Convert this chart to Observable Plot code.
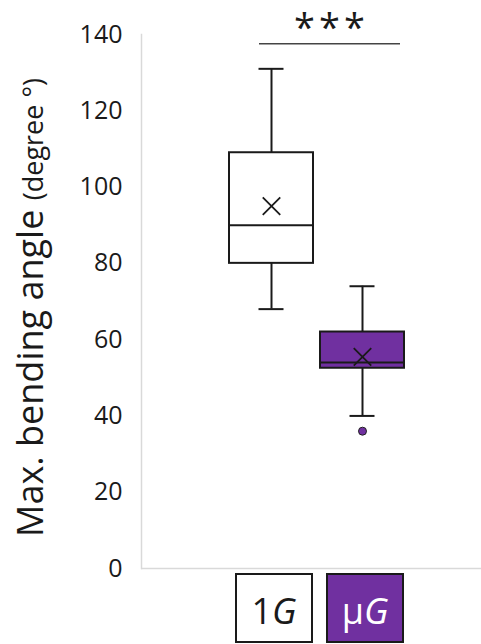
<!DOCTYPE html>
<html>
<head>
<meta charset="utf-8">
<script src="https://cdn.jsdelivr.net/npm/d3@7"></script>
<script src="https://cdn.jsdelivr.net/npm/@observablehq/plot@0.6"></script>
<style>
  html, body { margin: 0; padding: 0; background: #fff; }
  svg { display: block; }
</style>
</head>
<body>
<div id="chart"></div>
<script>
// ---- data ----
const groups   = ["1G", "μG"];
const whiskLo  = [68, 40];
const q1       = [80, 52.5];
const medians  = [90, 54];
const q3       = [109, 62];
const whiskHi  = [131, 74];
const means    = [95, 55.5];
const fills    = ["#ffffff", "#7030a0"];
const outlierGroup = ["μG"];
const outlierValue = [36];
const yTicks   = [0, 20, 40, 60, 80, 100, 120, 140];
const sigLevel = [137.6];
const sigText  = ["***"];

const boxes = groups.map((g, i) => ({
  g, lo: whiskLo[i], q1: q1[i], med: medians[i], q3: q3[i], hi: whiskHi[i], mean: means[i], fill: fills[i]
}));
const outliers = outlierGroup.map((g, i) => ({g, v: outlierValue[i]}));

const FONT = "'Open Sans', Lato, sans-serif";
const ink = "#1a1a1a";

const plot = Plot.plot({
  width: 481,
  height: 644,
  marginLeft: 141,
  marginRight: 0,
  marginTop: 34,
  marginBottom: 76,
  style: {fontFamily: FONT, background: "#fff"},
  x: {domain: groups, paddingInner: 0.082, paddingOuter: 0.9036, align: 0.529, axis: null},
  y: {domain: [0, 140], axis: null},
  marks: [
    Plot.frame({anchor: "left", stroke: "#d9d9d9", strokeWidth: 1.5}),
    Plot.ruleY([0], {stroke: "#d9d9d9", strokeWidth: 1.5}),
    Plot.axisY({ticks: yTicks, tickSize: 0, tickPadding: 19, fontSize: 25, fill: ink, fontFamily: FONT}),
    // whiskers
    Plot.ruleX(boxes, {x: "g", y1: "lo", y2: "q1", stroke: ink, strokeWidth: 2}),
    Plot.ruleX(boxes, {x: "g", y1: "q3", y2: "hi", stroke: ink, strokeWidth: 2}),
    Plot.tickY(boxes, {x: "g", y: "lo", stroke: ink, strokeWidth: 2, insetLeft: 29.5, insetRight: 29.5}),
    Plot.tickY(boxes, {x: "g", y: "hi", stroke: ink, strokeWidth: 2, insetLeft: 29.5, insetRight: 29.5}),
    // boxes
    Plot.rect(boxes, {x: "g", y1: "q1", y2: "q3", fill: "fill", stroke: ink, strokeWidth: 2}),
    Plot.tickY(boxes, {x: "g", y: "med", stroke: ink, strokeWidth: 2}),
    Plot.dot(boxes, {x: "g", y: "mean", symbol: "times", r: 8, stroke: ink, strokeWidth: 1.8}),
    Plot.dot(outliers, {x: "g", y: "v", r: 4, fill: "#7030a0", stroke: "#222", strokeWidth: 1}),
    // significance bracket
    Plot.ruleY(sigLevel, {x1: () => groups[0], x2: () => groups[1], insetLeft: 30, insetRight: 4, stroke: "#444", strokeWidth: 1.5})
  ]
});

document.getElementById("chart").appendChild(plot);

const svg = d3.select(plot);
const xs = plot.scale("x");
const ys = plot.scale("y");
const bw = xs.bandwidth;
const y0 = ys.apply(0);

// significance stars, centred over the bracket
const sx1 = xs.apply(groups[0]) + 30, sx2 = xs.apply(groups[1]) + bw - 4;
svg.append("text")
  .attr("x", (sx1 + sx2) / 2 + 2)
  .attr("y", ys.apply(sigLevel[0]) - 2)
  .attr("text-anchor", "middle")
  .attr("letter-spacing", 4)
  .attr("font-family", FONT).attr("font-size", 38).attr("fill", ink)
  .text(sigText[0]);

// category label boxes under the axis
groups.forEach((g, i) => {
  const cx = xs.apply(g) + bw / 2 + 3;
  const w = 76, top = y0 + 6, h = 68;
  svg.append("rect").attr("x", cx - w / 2).attr("y", top).attr("width", w).attr("height", h)
    .attr("fill", fills[i]).attr("stroke", ink).attr("stroke-width", 2);
  const t = svg.append("text").attr("x", cx).attr("y", top + 50).attr("text-anchor", "middle")
    .attr("font-family", FONT).attr("font-size", 36).attr("fill", i === 0 ? ink : "#ffffff");
  t.append("tspan").text(g.slice(0, -1));
  t.append("tspan").attr("font-style", "italic").text(g.slice(-1));
});

// y-axis title with mixed sizes
const title = svg.append("text")
  .attr("transform", "translate(43,537) rotate(-90)")
  .attr("text-anchor", "start")
  .attr("font-family", FONT)
  .attr("fill", ink);
title.append("tspan").attr("font-size", 36).text("Max. bending angle ");
title.append("tspan").attr("font-size", 27).text("(degree °)");
</script>
</body>
</html>
